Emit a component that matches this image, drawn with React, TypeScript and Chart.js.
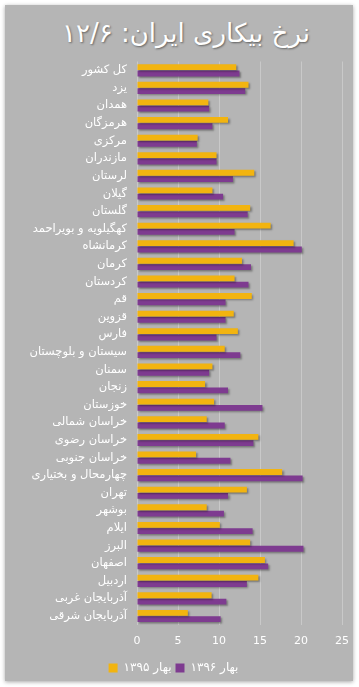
import React, { useEffect, useRef } from "react";
import { Chart, registerables } from "chart.js";

Chart.register(...registerables);

const titleText = "نرخ بیکاری ایران: ۱۲/۶";

const categories = [
  "کل کشور",
  "یزد",
  "همدان",
  "هرمزگان",
  "مرکزی",
  "مازندران",
  "لرستان",
  "گیلان",
  "گلستان",
  "کهگیلویه و بویراحمد",
  "کرمانشاه",
  "کرمان",
  "کردستان",
  "قم",
  "قزوین",
  "فارس",
  "سیستان و بلوچستان",
  "سمنان",
  "زنجان",
  "خوزستان",
  "خراسان شمالی",
  "خراسان رضوی",
  "خراسان جنوبی",
  "چهارمحال و بختیاری",
  "تهران",
  "بوشهر",
  "ایلام",
  "البرز",
  "اصفهان",
  "اردبیل",
  "آذربایجان غربی",
  "آذربایجان شرقی",
];

const series1395Label = "بهار ۱۳۹۵";
const series1395 = [
  12.1, 13.6, 8.7, 11.1, 7.4, 9.7, 14.3, 9.2, 13.8, 16.3, 19.1, 12.8, 11.9, 14.0,
  11.8, 12.3, 10.7, 9.2, 8.3, 9.4, 8.5, 14.8, 7.2, 17.7, 13.4, 8.5, 10.1, 13.8,
  15.6, 14.8, 9.1, 6.2,
];

const series1396Label = "بهار ۱۳۹۶";
const series1396 = [
  12.5, 13.2, 8.8, 9.2, 7.3, 9.7, 11.7, 10.5, 13.5, 11.9, 20.1, 13.9, 13.6, 10.8,
  10.8, 9.7, 12.6, 8.8, 11.1, 15.3, 10.7, 14.2, 11.4, 20.2, 11.1, 10.6, 14.1, 20.3,
  16.0, 13.4, 10.9, 10.2,
];

const xMin = 0;
const xMax = 25;
const xStep = 5;

const FONT = "'DejaVu Sans', sans-serif";

const shadowPlugin = {
  id: "barShadow",
  beforeDatasetsDraw(chart: any) {
    const ctx = chart.ctx;
    ctx.save();
    ctx.shadowColor = "rgba(0,0,0,0.35)";
    ctx.shadowBlur = 2;
    ctx.shadowOffsetX = 1.5;
    ctx.shadowOffsetY = 1.5;
  },
  afterDatasetsDraw(chart: any) {
    chart.ctx.restore();
  },
};

export default function App() {
  const canvasRef = useRef<HTMLCanvasElement | null>(null);

  useEffect(() => {
    document.body.style.margin = "0";
    const canvas = canvasRef.current;
    if (!canvas) return;
    const chart = new Chart(canvas, {
      type: "bar",
      data: {
        labels: categories,
        datasets: [
          {
            label: series1395Label,
            data: series1395,
            backgroundColor: "#F2B410",
            borderWidth: 0,
            categoryPercentage: 0.72,
            barPercentage: 0.92,
          },
          {
            label: series1396Label,
            data: series1396,
            backgroundColor: "#7E3B90",
            borderWidth: 0,
            categoryPercentage: 0.72,
            barPercentage: 0.92,
          },
        ],
      },
      options: {
        indexAxis: "y",
        responsive: false,
        animation: false,
        maintainAspectRatio: false,
        layout: { padding: { top: 11.5, right: 11, bottom: 0, left: 0 } },
        plugins: {
          title: { display: false },
          tooltip: { enabled: false },
          legend: {
            position: "bottom",
            labels: {
              color: "#ffffff",
              font: { family: FONT, size: 12 },
              boxWidth: 9,
              boxHeight: 9,
              padding: 4,
            },
          },
        },
        scales: {
          x: {
            min: xMin,
            max: xMax,
            ticks: {
              stepSize: xStep,
              color: "#ffffff",
              font: { family: FONT, size: 11 },
              padding: 10,
            },
            grid: {
              color: "rgba(255,255,255,0.28)",
              drawTicks: false,
            },
            border: { display: false },
            afterFit(scale: any) {
              scale.paddingLeft = 0;
              scale.paddingRight = 0;
            },
          },
          y: {
            ticks: {
              color: "#ffffff",
              font: { family: FONT, size: 11.5 },
              padding: 10,
              autoSkip: false,
            },
            grid: { display: false, drawTicks: false },
            border: { display: false },
            afterFit(scale: any) {
              scale.width = 132;
              scale.paddingTop = 0;
              scale.paddingBottom = 0;
            },
          },
        },
      },
      plugins: [shadowPlugin],
    } as any);
    return () => chart.destroy();
  }, []);

  return (
    <div
      style={{
        position: "relative",
        width: 359,
        height: 687,
        background: "#ffffff",
        overflow: "hidden",
      }}
    >
      <div
        style={{
          position: "absolute",
          left: 5,
          top: 5,
          width: 348,
          height: 676,
          background: "#b5b5b5",
          boxShadow: "0 1px 4px rgba(0,0,0,0.35)",
        }}
      />
      <div
        dir="rtl"
        style={{
          position: "absolute",
          left: 12,
          top: 16,
          width: 348,
          textAlign: "center",
          fontFamily: FONT,
          fontSize: 26,
          color: "#ffffff",
          textShadow: "1px 1px 2px rgba(0,0,0,0.45)",
          lineHeight: "34px",
        }}
      >
        {titleText}
      </div>
      <canvas
        ref={canvasRef}
        width={348}
        height={634}
        style={{ position: "absolute", left: 5, top: 50, width: 348, height: 634 }}
      />
    </div>
  );
}
